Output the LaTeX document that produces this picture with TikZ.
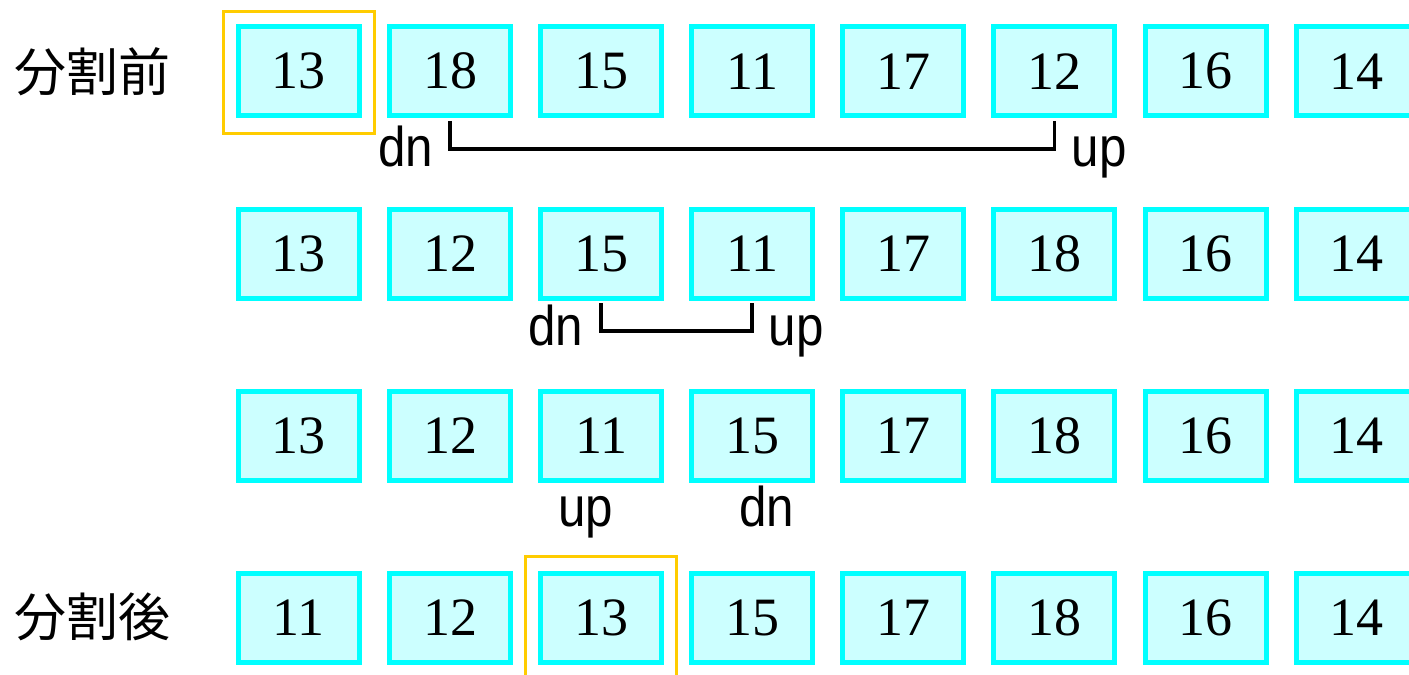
\documentclass[tikz,border=0pt]{standalone}
\usepackage{fontspec}
\setmainfont{Liberation Serif}
\newfontfamily\labfont[FakeStretch=0.88]{Liberation Sans}
\newfontfamily\cjkfont{Noto Sans CJK JP}
\definecolor{cellfill}{HTML}{CCFFFF}
\definecolor{cellline}{HTML}{00FFFF}
\definecolor{selline}{HTML}{FFCC00}
\begin{document}
\begin{tikzpicture}[x=1pt,y=-1pt,
  cell/.style={draw=cellline,fill=cellfill,line width=5pt,minimum width=121pt,minimum height=89pt,inner sep=0pt,font=\fontsize{54}{60}\selectfont},
  sel/.style={draw=selline,line width=3pt,minimum width=151.5pt,minimum height=122.2pt,inner sep=0pt},
  br/.style={draw=black,line width=3.5pt},
  lab/.style={font=\labfont\fontsize{56}{60}\selectfont,inner sep=0pt},
  head/.style={font=\cjkfont\fontsize{52}{56}\selectfont,inner sep=0pt}]
\useasboundingbox (0,0) rectangle (1409,675);
\foreach \row [count=\r] in {{13,18,15,11,17,12,16,14},{13,12,15,11,17,18,16,14},{13,12,11,15,17,18,16,14},{11,12,13,15,17,18,16,14}} {
  \foreach \v [count=\c] in \row {
    \node[cell] (r\r c\c) at ({298.9+151.1*(\c-1)},{71.3+182.2*(\r-1)}) {\v};
  }
}
\node[sel] (s1) at ([yshift=-1.3pt]r1c1.center) {};
\node[sel] (s4) at (r4c3.center) {};
\node[head] (h1) at (92.5,72) {分割前};
\node[head] (h4) at (92.5,617) {分割後};
\draw[br] ([yshift=-2.5pt]r1c2.south) -- ++(0,28) -| ([yshift=-2.5pt]r1c6.south);
\draw[br] ([yshift=-2.5pt]r2c3.south) -- ++(0,28) -| ([yshift=-2.5pt]r2c4.south);
\node[lab,anchor=base east] (d1) at (433.5,166.7) {dn};
\node[lab,anchor=base west] (u1) at (1071.5,166.5) {up};
\node[lab,anchor=base east] (d2) at (583.5,345) {dn};
\node[lab,anchor=base west] (u2) at (768.5,345) {up};
\node[lab,anchor=base] (u3) at (586,526.7) {up};
\node[lab,anchor=base] (d3) at (766.7,526.5) {dn};
\end{tikzpicture}
\end{document}
